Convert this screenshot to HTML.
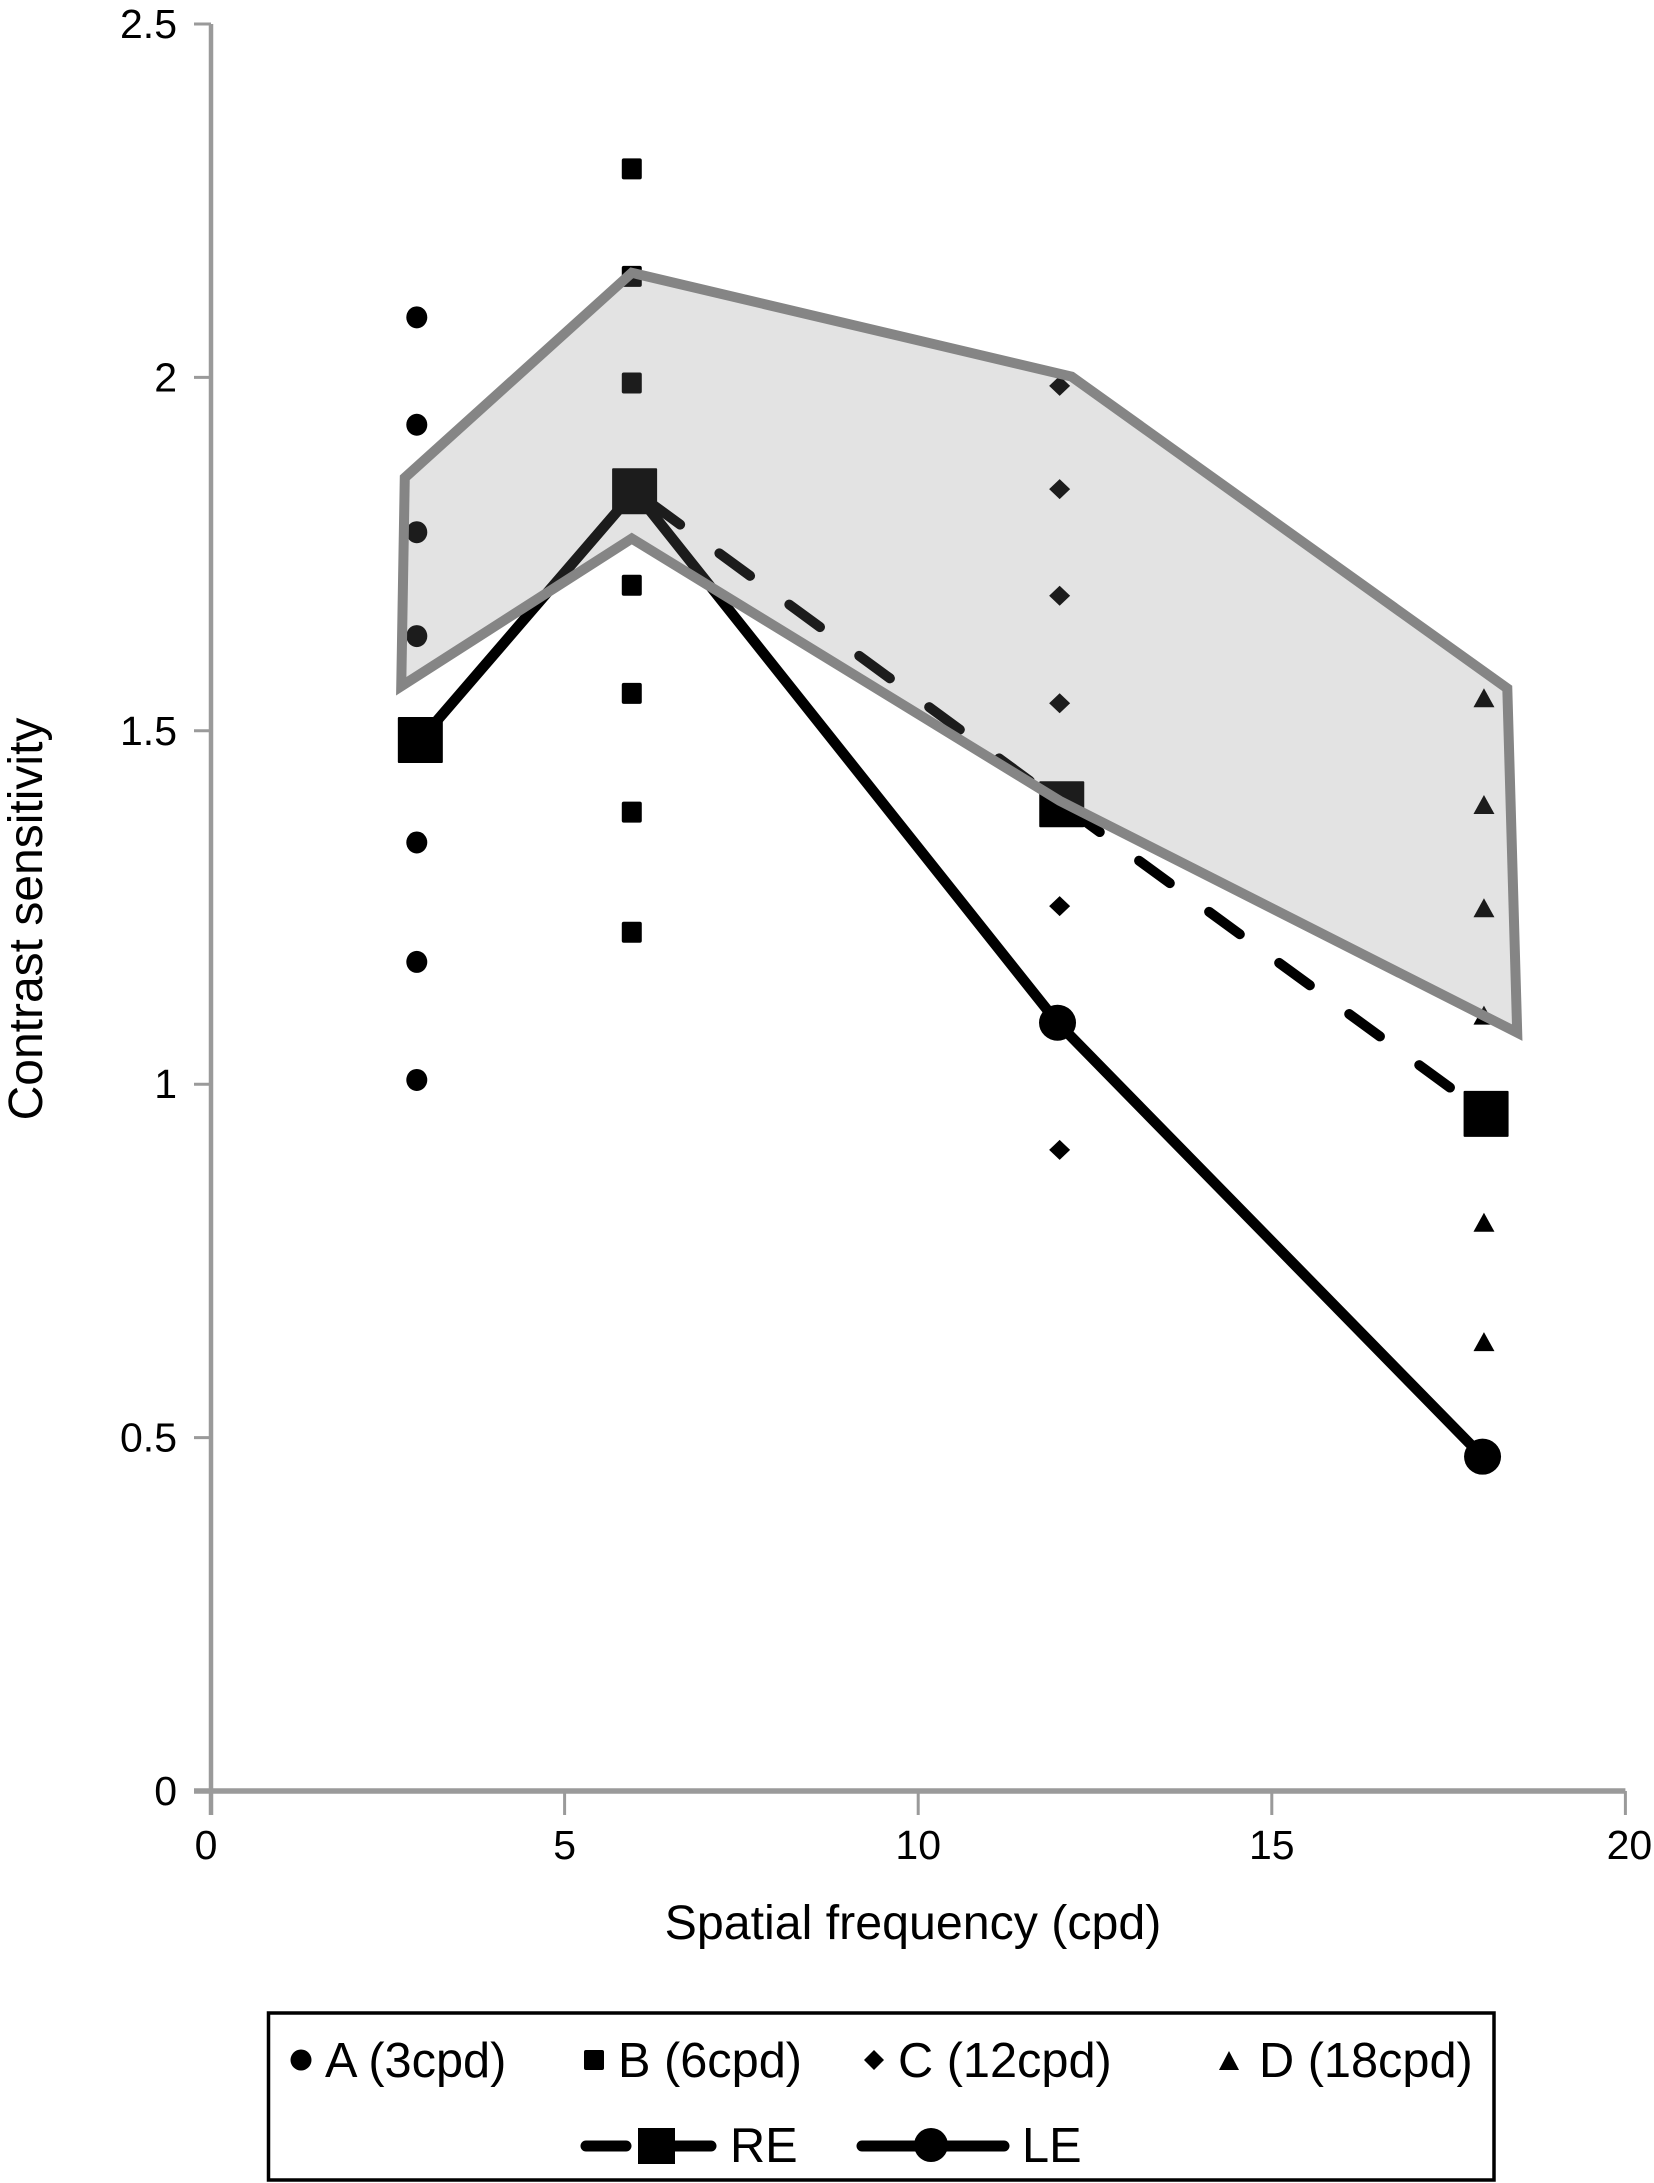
<!DOCTYPE html>
<html lang="en">
<head>
<meta charset="utf-8">
<title>Contrast sensitivity chart</title>
<style>
html,body{margin:0;padding:0;background:#fff;}
svg{display:block;font-family:"Liberation Sans",sans-serif;fill:#000;}
</style>
</head>
<body>
<svg id="chart" xmlns="http://www.w3.org/2000/svg" width="1654" height="2183" viewBox="0 0 1654 2183">
  <rect x="0" y="0" width="1654" height="2183" fill="#ffffff"/>
  <g id="axes"></g>
  <g id="marks"></g>
  <text transform="translate(42 919) rotate(-90)" text-anchor="middle" font-size="48">Contrast sensitivity</text>
  <text x="913" y="1939" text-anchor="middle" font-size="48.3">Spatial frequency (cpd)</text>
  <g>
    <rect x="268.5" y="2013" width="1225.5" height="167" fill="#ffffff" stroke="#000000" stroke-width="3.5"/>
    <g>
      <circle cx="301" cy="2060" r="10.5"/>
      <text x="325" y="2077" font-size="48.7">A (3cpd)</text>
    </g>
    <g>
      <rect x="584" y="2050" width="20" height="20" rx="2"/>
      <text x="618" y="2077" font-size="48.7">B (6cpd)</text>
    </g>
    <g>
      <polygon points="874,2050 884,2060 874,2070 864,2060"/>
      <text x="898" y="2077" font-size="48.7">C (12cpd)</text>
    </g>
    <g>
      <polygon points="1229,2051 1239,2070 1219,2070"/>
      <text x="1259" y="2077" font-size="48.7">D (18cpd)</text>
    </g>
    <g>
      <line x1="586" y1="2146" x2="626" y2="2146" stroke="#000" stroke-width="11" stroke-linecap="round"/>
      <line x1="660" y1="2146" x2="711" y2="2146" stroke="#000" stroke-width="11" stroke-linecap="round"/>
      <rect x="638" y="2128" width="37" height="36"/>
      <text x="730" y="2162" font-size="48.7">RE</text>
    </g>
    <g>
      <line x1="862" y1="2146" x2="1004" y2="2146" stroke="#000" stroke-width="11" stroke-linecap="round"/>
      <circle cx="931" cy="2145" r="17"/>
      <text x="1022" y="2162" font-size="48.7">LE</text>
    </g>
  </g>
</svg>
<script>
var xTickValues = [0, 5, 10, 15, 20];
var xTickLabels = ["0", "5", "10", "15", "20"];
var yTickValues = [0, 0.5, 1, 1.5, 2, 2.5];
var yTickLabels = ["0", "0.5", "1", "1.5", "2", "2.5"];

var seriesAX = [2.91, 2.91, 2.91, 2.91, 2.91, 2.91, 2.91];
var seriesAY = [2.085, 1.933, 1.781, 1.634, 1.342, 1.173, 1.006];
var seriesBX = [5.95, 5.95, 5.95, 5.95, 5.95, 5.95, 5.95];
var seriesBY = [2.295, 2.143, 1.992, 1.706, 1.553, 1.385, 1.215];
var seriesCX = [12.0, 12.0, 12.0, 12.0, 12.0, 12.0];
var seriesCY = [1.988, 1.842, 1.691, 1.539, 1.252, 0.907];
var seriesDX = [18.0, 18.0, 18.0, 18.0, 18.0, 18.0];
var seriesDY = [1.546, 1.395, 1.249, 1.097, 0.804, 0.635];

var reX = [2.96, 5.99, 12.03, 18.03];
var reY = [1.487, 1.839, 1.396, 0.958];
var leX = [2.96, 5.99, 11.97, 17.98];
var leY = [1.487, 1.839, 1.087, 0.473];

var bandX = [2.74, 5.95, 12.17, 18.33, 18.47, 12.0, 5.95, 2.69];
var bandY = [1.858, 2.148, 2.001, 1.560, 1.073, 1.401, 1.772, 1.563];

var NS = "http://www.w3.org/2000/svg";
function xScale(v) { return 211 + v * 70.72; }
function yScale(v) { return 1791 - v * 706.8; }
function make(tag, attrs, parent) {
  var el = document.createElementNS(NS, tag);
  for (var k in attrs) { el.setAttribute(k, attrs[k]); }
  parent.appendChild(el);
  return el;
}
function pointList(xs, ys) {
  return xs.map(function (x, i) { return xScale(x) + "," + yScale(ys[i]); }).join(" ");
}

var axes = document.getElementById("axes");
var marks = document.getElementById("marks");
var axisColor = "#9a9a9a";

var yAxisLine = make("line", {x1: xScale(0), y1: yScale(2.5), x2: xScale(0), y2: yScale(0) + 24, stroke: axisColor, "stroke-width": 4.5}, axes);


var xAxisLine = make("line", {x1: xScale(0) - 17, y1: yScale(0), x2: xScale(20), y2: yScale(0), stroke: axisColor, "stroke-width": 5.5}, axes);



xTickValues.forEach(function (v, i) {
  var t = make("line", {x1: xScale(v), y1: yScale(0), x2: xScale(v), y2: yScale(0) + 24, stroke: axisColor, "stroke-width": 3}, axes);
  
  
  var l = make("text", {x: xScale(v) + (v === 0 ? -5 : v === 20 ? 4 : 0), y: 1859, "text-anchor": "middle", "font-size": 41}, axes);
  l.textContent = xTickLabels[i];
  
  
});
yTickValues.forEach(function (v, i) {
  var t = make("line", {x1: xScale(0) - 17, y1: yScale(v), x2: xScale(0), y2: yScale(v), stroke: axisColor, "stroke-width": 3}, axes);
  
  
  var l = make("text", {x: 177, y: yScale(v) + 14, "text-anchor": "end", "font-size": 41}, axes);
  l.textContent = yTickLabels[i];
  
  
});

seriesAX.forEach(function (x, i) {
  var m = make("ellipse", {cx: xScale(x), cy: yScale(seriesAY[i]), rx: 10.5, ry: 11}, marks);
  
  
});
seriesBX.forEach(function (x, i) {
  var m = make("rect", {x: xScale(x) - 10, y: yScale(seriesBY[i]) - 10.5, width: 20, height: 21, rx: 2}, marks);
  
  
});
seriesCX.forEach(function (x, i) {
  var cx = xScale(x), cy = yScale(seriesCY[i]);
  var m = make("polygon", {points: cx + "," + (cy - 10) + " " + (cx + 10.5) + "," + cy + " " + cx + "," + (cy + 10) + " " + (cx - 10.5) + "," + cy}, marks);
  
  
});
seriesDX.forEach(function (x, i) {
  var cx = xScale(x), cy = yScale(seriesDY[i]);
  var m = make("polygon", {points: cx + "," + (cy - 10) + " " + (cx + 10.5) + "," + (cy + 9) + " " + (cx - 10.5) + "," + (cy + 9)}, marks);
  
  
});

var reLine = make("polyline", {points: pointList(reX, reY), fill: "none", stroke: "#000", "stroke-width": 10, "stroke-linecap": "round", "stroke-dasharray": "38 48.7"}, marks);


var leLine = make("polyline", {points: pointList(leX, leY), fill: "none", stroke: "#000", "stroke-width": 10.5, "stroke-linejoin": "round"}, marks);



leX.forEach(function (x, i) {
  var m = make("ellipse", {cx: xScale(x), cy: yScale(leY[i]), rx: 18.5, ry: 18}, marks);
  
  
});
reX.forEach(function (x, i) {
  var m = make("rect", {x: xScale(x) - 22.5, y: yScale(reY[i]) - 23, width: 45, height: 46, rx: 1}, marks);
  
  
});

var band = make("polygon", {points: pointList(bandX, bandY), fill: "#808080", "fill-opacity": 0.22, stroke: "#858585", "stroke-width": 10, "stroke-linejoin": "miter"}, marks);


</script>
</body>
</html>
